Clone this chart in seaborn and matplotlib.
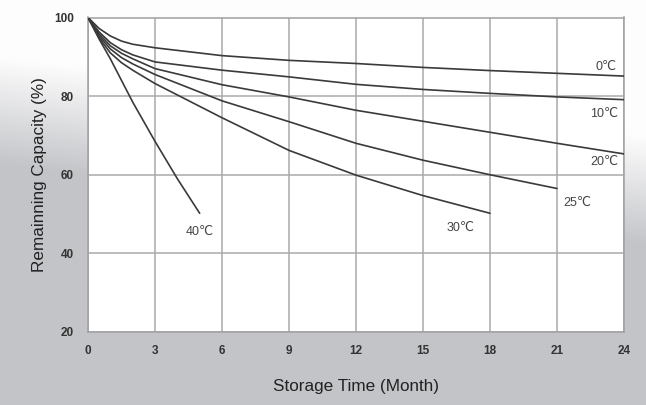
import numpy as np
import pandas as pd
import matplotlib
matplotlib.use("Agg")
import matplotlib.pyplot as plt
import seaborn as sns

# ---- data ----
temps = ["0℃", "10℃", "20℃", "25℃", "30℃", "40℃"]
months_0 = [0, 0.5, 1, 1.5, 2, 3, 6, 9, 12, 15, 18, 21, 24]
cap_0 = [100, 97.2, 95.3, 94.0, 93.2, 92.3, 90.3, 89.1, 88.3, 87.3, 86.5, 85.8, 85.1]
months_10 = [0, 0.5, 1, 1.5, 2, 3, 6, 9, 12, 15, 18, 21, 24]
cap_10 = [100, 96.3, 93.6, 91.8, 90.5, 88.7, 86.6, 84.9, 83.0, 81.7, 80.7, 79.8, 79.1]
months_20 = [0, 0.5, 1, 1.5, 2, 3, 6, 9, 12, 15, 18, 21, 24]
cap_20 = [100, 95.8, 92.8, 90.9, 89.5, 87.0, 82.9, 79.8, 76.4, 73.6, 70.8, 68.0, 65.3]
months_25 = [0, 0.5, 1, 1.5, 2, 3, 6, 9, 12, 15, 18, 21]
cap_25 = [100, 95.3, 92.0, 89.8, 88.2, 85.5, 78.8, 73.5, 68.0, 63.7, 60.0, 56.5]
months_30 = [0, 0.5, 1, 1.5, 2, 3, 6, 9, 12, 15, 18]
cap_30 = [100, 94.8, 91.0, 88.5, 86.6, 83.2, 74.5, 66.2, 59.9, 54.7, 50.2]
months_40 = [0, 0.5, 1, 2, 3, 4, 5]
cap_40 = [100, 94.5, 89.5, 78.5, 68.5, 59.0, 50.2]

label_x = [23.2, 23.1, 23.1, 21.9, 16.7, 5.0]
label_y = [87.4, 75.4, 63.2, 52.8, 46.4, 45.4]

x_ticks = [0, 3, 6, 9, 12, 15, 18, 21, 24]
y_ticks = [20, 40, 60, 80, 100]

series = {
    "0℃": (months_0, cap_0),
    "10℃": (months_10, cap_10),
    "20℃": (months_20, cap_20),
    "25℃": (months_25, cap_25),
    "30℃": (months_30, cap_30),
    "40℃": (months_40, cap_40),
}
rows = []
for t in temps:
    m, c = series[t]
    for mi, ci in zip(m, c):
        rows.append({"Month": mi, "Capacity": ci, "Temp": t})
df = pd.DataFrame(rows)

# ---- style ----
sns.set_theme(style="white")
plt.rcParams["font.family"] = ["Liberation Sans", "DejaVu Sans"]

W, H = 646, 405
fig = plt.figure(figsize=(W / 100, H / 100), dpi=100)

# background gradient (white top -> grey lower)
bg = fig.add_axes([0, 0, 1, 1], zorder=-10)
yy, xx = np.mgrid[0:H, 0:W]
y0 = 55 + 80 * (xx / W)
t = np.clip((yy - y0) / 110.0, 0, 1)
c_top = np.array([0.995, 0.995, 0.995])
c_bot = np.array([0.765, 0.769, 0.785])
img = c_top[None, None, :] * (1 - t[..., None]) + c_bot[None, None, :] * t[..., None]
bg.imshow(img, aspect="auto", extent=[0, 1, 0, 1], origin="upper")
bg.axis("off")

ax = fig.add_axes([88 / W, 1 - 332 / H, (624 - 88) / W, (332 - 17.5) / H])
ax.set_facecolor("white")

line_col = "#3a3a3a"
sns.lineplot(data=df, x="Month", y="Capacity", hue="Temp", hue_order=temps,
             palette={t_: line_col for t_ in temps}, legend=False,
             linewidth=1.2, sort=False, estimator=None, ax=ax, zorder=3)

ax.set_xlim(0, 24)
ax.set_ylim(20, 100)
ax.set_xticks(x_ticks)
ax.set_yticks(y_ticks)
ax.set_xticklabels([str(v) for v in x_ticks], fontsize=8.5, fontweight="bold", color="#333333")
ax.set_yticklabels([str(v) for v in y_ticks], fontsize=8.5, fontweight="bold", color="#333333")
ax.tick_params(axis="both", length=0)
ax.tick_params(axis="x", pad=9)
ax.tick_params(axis="y", pad=10)
ax.grid(True, color="#a9a9ad", linewidth=1.1)
ax.set_axisbelow(True)
for s in ax.spines.values():
    s.set_color("#a0a0a4")
    s.set_linewidth(1.1)

ax.set_xlabel("Storage Time (Month)", fontsize=12.3, color="#222222", labelpad=16)
ax.set_ylabel("Remainning Capacity (%)", fontsize=12.3, color="#222222", labelpad=5)

for t_, lx, ly in zip(temps, label_x, label_y):
    ax.text(lx, ly, t_, ha="center", va="center", fontsize=9, color="#444444", zorder=4)

fig.savefig("out.png", dpi=100)
